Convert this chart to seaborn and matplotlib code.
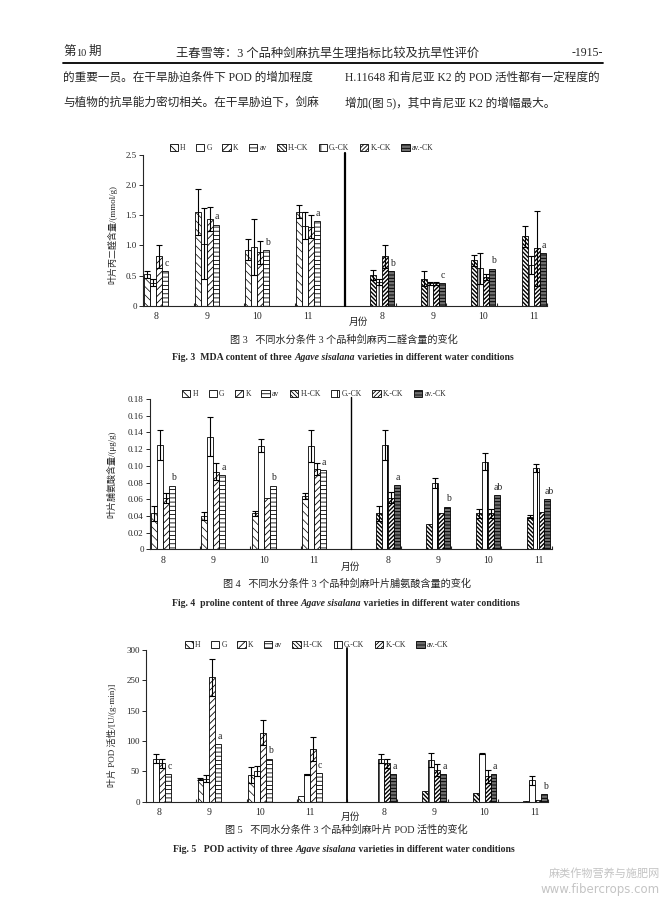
import numpy as np
import pandas as pd
import matplotlib
matplotlib.use("Agg")
import matplotlib.pyplot as plt
import seaborn as sns
from matplotlib.patches import Patch
from matplotlib.lines import Line2D

nan = np.nan

# ---------------- data ----------------
months = ["8", "9", "10", "11"]
series = ["H", "G", "K", "av", "H.-CK", "G.-CK", "K.-CK", "av.-CK"]

mda_mean = [
    [0.52, 1.56, 0.93, 1.56],
    [0.38, 1.03, 0.97, 1.33],
    [0.82, 1.44, 0.89, 1.31],
    [0.57, 1.34, 0.92, 1.40],
    [0.51, 0.45, 0.75, 1.15],
    [0.40, 0.37, 0.62, 0.68],
    [0.82, 0.37, 0.47, 0.95],
    [0.57, 0.37, 0.61, 0.87],
]
mda_err = [
    [0.06, 0.38, 0.17, 0.11],
    [0.06, 0.59, 0.46, 0.23],
    [0.19, 0.20, 0.19, 0.19],
    [nan, nan, nan, nan],
    [0.08, 0.13, 0.09, 0.17],
    [0.05, 0.02, 0.26, 0.15],
    [0.19, 0.02, 0.05, 0.62],
    [nan, nan, nan, nan],
]
mda_letters = ["c", "a", "b", "a", "b", "c", "b", "a"]
mda_yticks = [0, 0.5, 1.0, 1.5, 2.0, 2.5]
mda_yticklabels = ["0", "0.5", "1.0", "1.5", "2.0", "2.5"]

pro_mean = [
    [0.043, 0.040, 0.043, 0.064],
    [0.125, 0.135, 0.124, 0.124],
    [0.062, 0.093, 0.062, 0.096],
    [0.076, 0.089, 0.076, 0.095],
    [0.043, 0.030, 0.043, 0.039],
    [0.125, 0.079, 0.105, 0.097],
    [0.062, 0.043, 0.043, 0.045],
    [0.077, 0.051, 0.065, 0.060],
]
pro_err = [
    [0.009, 0.005, 0.003, 0.004],
    [0.018, 0.023, 0.008, 0.019],
    [0.006, 0.010, nan, 0.007],
    [nan, nan, nan, nan],
    [0.009, nan, 0.005, 0.002],
    [0.018, 0.006, 0.010, 0.005],
    [0.007, nan, 0.005, nan],
    [nan, nan, nan, nan],
]
pro_letters = ["b", "a", "b", "a", "a", "b", "ab", "ab"]
pro_yticks = [0, 0.02, 0.04, 0.06, 0.08, 0.10, 0.12, 0.14, 0.16, 0.18]
pro_yticklabels = ["0", "0.02", "0.04", "0.06", "0.08", "0.10", "0.12", "0.14", "0.16", "0.18"]

pod_mean = [
    [0, 38, 44, 10],
    [71, 38, 51, 45],
    [63, 205, 114, 87],
    [45, 95, 71, 47],
    [0, 17, 15, 1],
    [71, 69, 79, 35],
    [63, 52, 42, 3],
    [45, 45, 45, 12],
]
pod_err = [
    [nan, 1.5, 12.5, nan],
    [7, 6, 8, 1],
    [8, 30, 20, 20],
    [nan, nan, nan, nan],
    [nan, nan, nan, nan],
    [7, 11, 1, 8],
    [8, 9.5, 11, nan],
    [nan, nan, nan, nan],
]
pod_letters = ["c", "a", "b", "c", "a", "a", "a", "b"]
pod_yticks = [0, 50, 100, 150, 200, 250]
pod_yticklabels = ["0", "50", "100", "150", "250", "300"]

# ---------------- style ----------------
sns.set_style("ticks")
plt.rcParams["font.family"] = ["Liberation Serif", "Noto Sans CJK SC"]
plt.rcParams["hatch.linewidth"] = 0.6
plt.rcParams["axes.unicode_minus"] = False

styles = {
    "H": dict(fc="white", hatch="\\\\\\\\", hlw=0.5),
    "G": dict(fc="white", hatch="", hlw=0.5),
    "K": dict(fc="white", hatch="/////", hlw=0.6),
    "av": dict(fc="white", hatch="----", hlw=0.6),
    "H.-CK": dict(fc="white", hatch="\\\\\\\\\\\\\\\\", hlw=1.0),
    "G.-CK": dict(fc="white", hatch="||", hlw=0.7),
    "K.-CK": dict(fc="white", hatch="////////", hlw=1.0),
    "av.-CK": dict(fc="#6f6f6f", hatch="-----", hlw=0.7),
}
palette = {s: styles[s]["fc"] for s in series}

W, H = 662, 899
fig = plt.figure(figsize=(W / 100, H / 100), dpi=100)
fig.patch.set_facecolor("white")

bg = fig.add_axes([0, 0, 1, 1], zorder=-5)
bg.axis("off")
bg.patch.set_visible(False)
bg.set_xlim(0, W)
bg.set_ylim(H, 0)


def set_hlw(p, lw):
    try:
        p.set_hatch_linewidth(lw)
    except Exception:
        pass


def draw_chart(rect, means, errs, letters, yticks, yticklabels, ylabel,
               label_xy, divider_lw):
    ax = fig.add_axes(rect)
    rows = []
    for si, s in enumerate(series):
        side = "L" if si < 4 else "R"
        for mi, m in enumerate(months):
            rows.append({"pos": side + m, "series": s, "value": means[si][mi]})
    df = pd.DataFrame(rows)
    order = ["L" + m for m in months] + ["R" + m for m in months]
    width = 0.95
    sns.barplot(data=df, x="pos", y="value", hue="series", order=order,
                hue_order=series, palette=palette, dodge=True, width=width,
                gap=0, errorbar=None, saturation=1, edgecolor="black",
                linewidth=0.6, legend=False, ax=ax)
    bw = width / len(series)
    centers = {i: [] for i in range(8)}
    for p in list(ax.patches):
        xc = p.get_x() + p.get_width() / 2
        cat = int(round(xc))
        slot = int(np.floor((xc - cat + width / 2) / bw + 1e-6))
        slot = min(max(slot, 0), 7)
        s = series[slot]
        mi = cat if cat < 4 else cat - 4
        p.set_hatch(styles[s]["hatch"])
        set_hlw(p, styles[s]["hlw"])
        h = p.get_height()
        e = errs[slot][mi]
        if np.isfinite(e):
            ax.errorbar(xc, h, yerr=e, fmt="none", ecolor="black",
                        elinewidth=0.8, capsize=2.2, capthick=0.8, zorder=4)
        if s in ("av", "av.-CK"):
            ax.annotate(letters[cat], xy=(xc, h), xytext=(1, 2.5),
                        textcoords="offset points", ha="center", va="bottom",
                        fontsize=7, zorder=5)
        centers[cat].append(xc)
    ax.set_xlim(-0.5, 7.5)
    ax.set_ylim(yticks[0], yticks[-1])
    ax.set_xticks([np.mean(centers[c]) for c in range(8)])
    ax.set_xticklabels(months + months)
    ax.set_xticks(np.arange(0.5, 8, 1), minor=True)
    ax.set_yticks(yticks)
    ax.set_yticklabels(yticklabels)
    ax.tick_params(axis="x", which="major", length=0, pad=4.5, labelsize=7)
    ax.tick_params(axis="x", which="minor", length=2, direction="in", width=0.8)
    ax.tick_params(axis="y", length=3, width=0.7, pad=1.5, labelsize=6.5,
                   direction="out")
    sns.despine(ax=ax)
    for sp in ("left", "bottom"):
        ax.spines[sp].set_linewidth(0.8)
    ax.set_xlabel("")
    ax.set_ylabel(ylabel, fontsize=6.5)
    ax.yaxis.set_label_coords(*label_xy)
    ax.axvline(3.5, color="black", lw=divider_lw, ymin=0, ymax=1.01,
               clip_on=False, zorder=3)
    ax.set_facecolor("none")
    return ax


def rect_px(left, right, bottom, top):
    return [left / W, 1 - bottom / H, (right - left) / W, (bottom - top) / H]


handles = [Patch(facecolor=styles[s]["fc"], edgecolor="black",
                 hatch=styles[s]["hatch"], linewidth=0.6) for s in series]


def legend_at(cx, cy):
    fig.legend(handles=handles, labels=series, loc="center",
               bbox_to_anchor=(cx / W, 1 - cy / H), ncol=8, frameon=False,
               fontsize=5.5, handlelength=1.1, handleheight=1.0,
               handletextpad=0.3, columnspacing=1.35, borderpad=0,
               borderaxespad=0)


def en_caption(x, y, parts, size=7.0):
    prev = bg.text(x, y, parts[0][0], fontsize=size, fontweight="bold",
                   style=parts[0][1], ha="left", va="center")
    for txt, st in parts[1:]:
        prev = bg.annotate(txt, xy=(1, 0), xycoords=prev, xytext=(0, 0),
                           textcoords="offset points", ha="left", va="bottom",
                           fontsize=size, fontweight="bold", style=st)


# ---------------- page header ----------------
bg.text(63, 52, "第", fontsize=9, ha="left", va="center")
bg.text(76, 54, "10", fontsize=7.5, ha="left", va="center")
bg.text(89, 52, "期", fontsize=9, ha="left", va="center")
bg.text(328, 54, "王春雪等：3 个品种剑麻抗旱生理指标比较及抗旱性评价",
        fontsize=8.8, ha="center", va="center")
bg.text(603, 53, "-1915-", fontsize=8.5, ha="right", va="center")
bg.add_line(Line2D([63, 603], [63, 63], color="black", lw=1.3))
bg.text(63, 78, "的重要一员。在干旱胁迫条件下 POD 的增加程度",
        fontsize=8.4, ha="left", va="center")
bg.text(63, 103, "与植物的抗旱能力密切相关。在干旱胁迫下，剑麻",
        fontsize=8.4, ha="left", va="center")
bg.text(345, 78, "H.11648 和肯尼亚 K2 的 POD 活性都有一定程度的",
        fontsize=8.4, ha="left", va="center")
bg.text(345, 103, "增加(图 5)，其中肯尼亚 K2 的增幅最大。",
        fontsize=8.4, ha="left", va="center")

# ---------------- chart 1 ----------------
draw_chart(rect_px(143, 547, 305.7, 155), mda_mean, mda_err, mda_letters,
           mda_yticks, mda_yticklabels, "叶片丙二醛含量/(mmol/g)",
           (-0.064, 0.47), 1.6)
legend_at(301.5, 148)
bg.text(358, 322, "月份", fontsize=7, ha="center", va="center")
bg.text(344, 340, "图 3   不同水分条件 3 个品种剑麻丙二醛含量的变化",
        fontsize=7.3, ha="center", va="center")
en_caption(172, 357, [("Fig. 3  MDA content of three ", "normal"),
                      ("Agave sisalana", "italic"),
                      (" varieties in different water conditions", "normal")])

# ---------------- chart 2 ----------------
draw_chart(rect_px(150, 551.7, 549.3, 399), pro_mean, pro_err, pro_letters,
           pro_yticks, pro_yticklabels, "叶片脯氨酸含量/(μg/g)",
           (-0.083, 0.5), 1.0)
legend_at(314, 394)
bg.text(350, 567, "月份", fontsize=7, ha="center", va="center")
bg.text(346.7, 584, "图 4   不同水分条件 3 个品种剑麻叶片脯氨酸含量的变化",
        fontsize=7.3, ha="center", va="center")
en_caption(172, 604, [("Fig. 4  proline content of three ", "normal"),
                      ("Agave sisalana", "italic"),
                      (" varieties in different water conditions", "normal")])

# ---------------- chart 3 ----------------
draw_chart(rect_px(146, 548, 801.7, 650), pod_mean, pod_err, pod_letters,
           pod_yticks, pod_yticklabels, "叶片 POD 活性/[U/(g·min)]",
           (-0.073, 0.44), 1.3)
legend_at(316.5, 645)
bg.text(350, 817, "月份", fontsize=7, ha="center", va="center")
bg.text(346.5, 830, "图 5   不同水分条件 3 个品种剑麻叶片 POD 活性的变化",
        fontsize=7.3, ha="center", va="center")
en_caption(173, 850, [("Fig. 5   POD activity of three ", "normal"),
                      ("Agave sisalana", "italic"),
                      (" varieties in different water conditions", "normal")])

# ---------------- watermark ----------------
bg.text(660, 874, "麻类作物营养与施肥网", fontsize=8, color="#c4c4c4",
        ha="right", va="center")
bg.text(660, 889, "www.fibercrops.com", fontsize=8.5, color="#c4c4c4",
        ha="right", va="center", family=["DejaVu Sans"])

fig.savefig("out.png", dpi=100, facecolor="white")
